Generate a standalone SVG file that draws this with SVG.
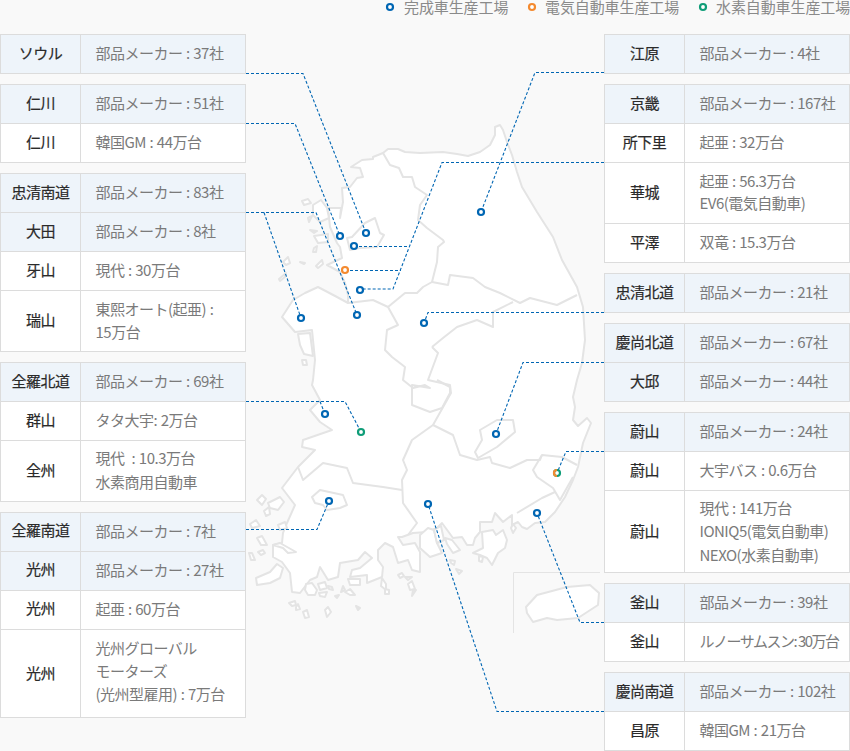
<svg xmlns="http://www.w3.org/2000/svg" width="850" height="751" viewBox="0 0 850 751">
<style>
text{font-family:"Noto Sans CJK JP","Noto Sans",sans-serif;font-size:15px}
.h{fill:#2a2a2a;stroke:#2a2a2a;stroke-width:.2;text-anchor:middle;letter-spacing:-.5px}
.d{fill:#7a7a7a;letter-spacing:-.5px;word-spacing:.7px}
.t{letter-spacing:-1.5px;word-spacing:0}
.l{fill:#8a8a8a;font-size:15px;letter-spacing:-.1px}
.a{fill:#eef4fa;stroke:#dcdcdc}
.w{fill:#fff;stroke:#dcdcdc}
.m{fill:#fff;stroke:#e4e4e4;stroke-width:2;stroke-linejoin:round}
.i{fill:none;stroke:#e4e4e4;stroke-width:2;stroke-linejoin:round}
.c{fill:none;stroke:#0066b3;stroke-width:1.1;stroke-dasharray:3 2}
.p{fill:#fff;stroke-width:2.2}
.bl{stroke:#0066b3}.or{stroke:#f48a2f}.gr{stroke:#0f9d78}
</style>
<rect width="850" height="751" fill="#f9f9f9"/>
<g id="map">
<path class="m" d="M351 167L362 160L373 159L373 157L383 153L388 149L398 149L405 152L420 153L443 152L457 154L468 156L480 152L490 145L495 135L495 127L500 125L503 130L507 142L512 155L517 172L522 187L537 212L553 237L562 260L577 287L583 307L585 340L582 363L577 380L573 397L575 407L573 420L578 426L587 418L591 423L583 443L578 467L573 480L565 497L555 512L545 522L535 523L527 529L522 527L518 522L512 525L512 515L503 522L495 513L492 522L480 522L480 532L475 538L473 545L467 545L462 537L453 538L442 523L437 528L427 532L413 533L402 537L398 537L403 545L415 543L420 552L420 572L412 570L408 560L398 563L393 547L385 543L378 550L378 560L383 567L382 577L367 583L367 575L350 577L352 570L360 568L372 558L365 552L358 560L340 563L338 577L328 580L320 567L317 577L310 580L300 593L292 592L290 573L282 562L273 557L273 545L282 543L283 533L287 523L295 505L282 488L298 467L315 450L302 447L303 440L332 430L320 422L310 410L320 400L312 385L313 380L315 360L312 330L295 332L282 317L293 300L305 293L318 287L337 297L348 303L348 295L345 283L340 272L327 265L342 258L340 247L337 243L330 227L328 208L341 208L340 218L343 202L342 188L350 187L357 178L363 177L360 168Z"/>
<g class="m">
<path d="M313 205L321 200L327 208L329 218L320 222L313 215Z"/>
<path d="M302 201L308 199L311 203L304 205Z"/>
<path d="M308 218L312 216L309 222Z"/>
<path d="M310 230L317 231L314 233Z"/>
<path d="M314 236L328 234L328 242L318 243Z"/>
<path d="M314 248L317 246L316 252L313 252Z"/>
<path d="M283 262L288 257L290 263L286 265Z"/>
<path d="M300 262L305 263L304 264Z"/>
<path d="M316 266L322 260L323 264L318 268Z"/>
<path d="M279 279L286 273L285 277L280 281Z"/>
<path d="M298 334L310 333L313 356L304 354L300 345Z"/>
<path d="M302 360L306 360L307 365L303 365Z"/>
<path d="M257 500L262 495L266 499L262 505Z"/>
<path d="M268 503L280 497L284 502L278 510L270 508Z"/>
<path d="M264 511L269 507L270 514L266 516Z"/>
<path d="M250 524L256 520L260 526L252 528Z"/>
<path d="M278 525L285 522L287 528L280 530Z"/>
<path d="M257 538L262 536L267 545L261 545Z"/>
<path d="M258 552L263 550L265 553L261 555Z"/>
<path d="M249 553L252 553L255 560L251 560Z"/>
<path d="M273 545L280 543L296 552L288 553L283 548Z"/>
<path d="M270 572L277 564L283 568L280 578L270 583L257 585L256 578Z"/>
<path d="M306 584L312 583L317 590L315 595L308 595L305 590Z"/>
<path d="M318 584L325 582L327 588L320 590Z"/>
<path d="M328 586L332 587L333 590L329 589Z"/>
<path d="M319 593L327 592L325 597L320 596Z"/>
<path d="M343 586L345 590L341 592Z"/>
<path d="M345 592L350 589L355 595L350 595Z"/>
<path d="M335 596L339 595L337 598Z"/>
<path d="M348 579L360 579L360 585L350 585Z"/>
<path d="M382 578L386 584L386 590L381 586Z"/>
<path d="M385 589L389 590L389 594L385 594Z"/>
<path d="M398 575L402 573L404 576L400 578Z"/>
<path d="M405 577L412 577L408 580Z"/>
<path d="M408 584L412 581L415 589L410 590Z"/>
<path d="M413 590L416 590L412 596Z"/>
<path d="M289 603L295 601L296 605L292 606Z"/>
<path d="M296 607L298 604L300 609L296 610Z"/>
<path d="M303 612L307 610L309 617L305 618Z"/>
<path d="M325 610L328 607L331 612L327 617Z"/>
<path d="M356 606L360 608L358 610Z"/>
<path d="M420 535L428 528L434 530L437 543L442 553L430 557L420 548Z"/>
<path d="M434 530L441 526L444 540L437 543Z"/>
<path d="M445 538L452 540L460 550L453 553L447 544Z"/>
<path d="M450 560L455 561L454 565L451 563Z"/>
<path d="M456 569L462 571L459 574Z"/>
<path d="M473 553L483 548L482 532L493 530L496 535L503 530L507 540L505 548L498 553L492 565L487 558L480 555Z"/>
<path d="M479 556L483 557L482 562L479 561Z"/>
<path d="M513 524L516 528L513 533L511 528Z"/>
</g>
<g class="i">
<path d="M383 153L390 165L399 168L403 177L412 177L415 187L427 195L420 205L418 220L427 228L443 240L444 242L438 247L437 262L432 282L448 285L450 275L473 278L485 287L500 293L520 303L530 298L557 305L577 295"/>
<path d="M432 282L423 287L417 293L405 293L388 307L398 325L387 330L385 350L392 357L405 367L403 380L413 388L425 385L430 388L412 385L412 405L430 412L442 408L450 393L450 387L437 380"/>
<path d="M432 347L443 338L457 327L477 320L493 327L493 312L513 302"/>
<path d="M432 347L438 353L428 380L450 385L451 393L433 425L453 435L460 455L477 460L490 457L492 463L510 468L527 460L540 460L542 455L562 457L577 465"/>
<path d="M433 425L412 440L403 460L407 470L402 480L403 503L417 523L408 535"/>
<path d="M298 467L303 480L323 463L347 468L353 483L383 487L402 490"/>
<path d="M348 303L373 300L388 307"/>
<path d="M497 420L513 420L515 432L497 447L478 458L475 452L482 440L480 430Z"/>
<path d="M542 455L533 470L537 477L553 488L560 500L573 477"/>
<path d="M555 492L542 498L517 513"/>
<path d="M352 237L365 223L375 218L380 233L384 235L377 247L360 248L350 250L347 238Z"/>
<path d="M312 497L320 490L343 495L347 505L340 508L327 510L323 505L315 503Z"/>
</g>
<path class="m" d="M526 607L537 595L567 587L590 585L599 593L598 605L578 618L557 620L547 618L533 622L527 613Z"/>
<path d="M513.500 633V572.500H600" fill="none" stroke="#e4e4e4"/>
</g>
<g id="connectors">
<path class="c" d="M246 73.500H303L366 233"/>
<path class="c" d="M246 123.500H295L340 236"/>
<path class="c" d="M246 212.500H316L357 315M264 212.500L301 318"/>
<path class="c" d="M246 401.500H345L361 432M320 401.500L325 414"/>
<path class="c" d="M246 529.500H317L329 501"/>
<path class="c" d="M604 72.500H535L481 212"/>
<path class="c" d="M604 162.500H442L393 289H360M345 270.500H401M354 246.500H409"/>
<path class="c" d="M604 312.500H428L424 323"/>
<path class="c" d="M604 362.500H523L496 434"/>
<path class="c" d="M604 451.500H566L557 473"/>
<path class="c" d="M604 622.500H580L537 513"/>
<path class="c" d="M604 711.500H497L428 504"/>
</g>
<g id="plants">
<circle class="p bl" cx="366" cy="233" r="3"/><circle class="p bl" cx="340" cy="236" r="3"/><circle class="p bl" cx="354" cy="246" r="3"/><circle class="p or" cx="345" cy="270" r="3"/><circle class="p bl" cx="360" cy="290" r="3"/><circle class="p bl" cx="301" cy="318" r="3"/><circle class="p bl" cx="357" cy="315" r="3"/><circle class="p bl" cx="481" cy="212" r="3"/><circle class="p bl" cx="424" cy="323" r="3"/><circle class="p bl" cx="325" cy="414" r="3"/><circle class="p gr" cx="361" cy="432" r="3"/><circle class="p bl" cx="496" cy="434" r="3"/><circle class="p bl" cx="329" cy="501" r="3"/><circle class="p bl" cx="428" cy="504" r="3"/><circle class="p bl" cx="537" cy="513" r="3"/>
<circle class="p gr" cx="557" cy="473" r="3"/><path d="M557 470a3 3 0 0 0 0 6" fill="none" stroke="#f48a2f" stroke-width="2.2"/>
</g>
<g id="legend">
<circle class="p bl" cx="390" cy="7" r="3"/><text class="l" x="404" y="13">完成車生産工場</text>
<circle class="p or" cx="532" cy="7" r="3"/><text class="l" x="545" y="13">電気自動車生産工場</text>
<circle class="p gr" cx="703" cy="7" r="3"/><text class="l" x="716" y="13">水素自動車生産工場</text>
</g>
<g id="seoul"><rect class="a" x=".5" y="34.500" width="245" height="39"/><path class="a" d="M80.500 34.500V73.500"/><text class="h" x="40.500" y="59">ソウル</text><text class="d" x="95.500" y="59">部品メーカー : 37社</text></g>
<g id="incheon"><rect class="a" x=".5" y="84.500" width="245" height="39"/><rect class="w" x=".5" y="123.500" width="245" height="39"/><path class="a" d="M80.500 84.500V162.500"/><text class="h" x="40.500" y="109">仁川</text><text class="d" x="95.500" y="109">部品メーカー : 51社</text><text class="h" x="40.500" y="148">仁川</text><text class="d" x="95.500" y="148">韓国GM : 44万台</text></g>
<g id="chungnam"><rect class="a" x=".5" y="173.500" width="245" height="78"/><path class="a" d="M.5 212.500H245.500"/><rect class="w" x=".5" y="251.500" width="245" height="100"/><path class="a" d="M.5 290.500H245.500M80.500 173.500V351.500"/><text class="h" x="40.500" y="198">忠清南道</text><text class="d" x="95.500" y="198">部品メーカー : 83社</text><text class="h" x="40.500" y="237">大田</text><text class="d" x="95.500" y="237">部品メーカー : 8社</text><text class="h" x="40.500" y="276">牙山</text><text class="d" x="95.500" y="276">現代 : 30万台</text><text class="h" x="40.500" y="326">瑞山</text><text class="d" x="95.500" y="315">東熙オート(起亜) :</text><text class="d" x="95.500" y="338">15万台</text></g>
<g id="jeonbuk"><rect class="a" x=".5" y="362.500" width="245" height="39"/><rect class="w" x=".5" y="401.500" width="245" height="100"/><path class="a" d="M.5 440.500H245.500M80.500 362.500V501.500"/><text class="h" x="40.500" y="387">全羅北道</text><text class="d" x="95.500" y="387">部品メーカー : 69社</text><text class="h" x="40.500" y="426">群山</text><text class="d" x="95.500" y="426">タタ大宇: 2万台</text><text class="h" x="40.500" y="476">全州</text><text class="d" x="95.500" y="464">現代&#160; : 10.3万台</text><text class="d" x="95.500" y="488">水素商用自動車</text></g>
<g id="jeonnam"><rect class="a" x=".5" y="512.500" width="245" height="78"/><path class="a" d="M.5 551.500H245.500"/><rect class="w" x=".5" y="590.500" width="245" height="127"/><path class="a" d="M.5 629.500H245.500M80.500 512.500V717.500"/><text class="h" x="40.500" y="536">全羅南道</text><text class="d" x="95.500" y="537">部品メーカー : 7社</text><text class="h" x="40.500" y="575">光州</text><text class="d" x="95.500" y="576">部品メーカー : 27社</text><text class="h" x="40.500" y="614">光州</text><text class="d" x="95.500" y="615">起亜 : 60万台</text><text class="h" x="40.500" y="679">光州</text><text class="d" x="95.500" y="654">光州グローバル</text><text class="d" x="95.500" y="677">モーターズ</text><text class="d" x="95.500" y="700">(光州型雇用) : 7万台</text></g>
<g id="gangwon"><rect class="a" x="604.500" y="34.500" width="245" height="39"/><path class="a" d="M684.500 34.500V73.500"/><text class="h" x="644.500" y="59">江原</text><text class="d" x="699.500" y="59">部品メーカー : 4社</text></g>
<g id="gyeonggi"><rect class="a" x="604.500" y="84.500" width="245" height="39"/><rect class="w" x="604.500" y="123.500" width="245" height="139"/><path class="a" d="M604.500 162.500H849.500M604.500 223.500H849.500M684.500 84.500V262.500"/><text class="h" x="644.500" y="109">京畿</text><text class="d" x="699.500" y="109">部品メーカー : 167社</text><text class="h" x="644.500" y="148">所下里</text><text class="d" x="699.500" y="148">起亜 : 32万台</text><text class="h" x="644.500" y="198">華城</text><text class="d" x="699.500" y="187">起亜 : 56.3万台</text><text class="d" x="699.500" y="209">EV6(電気自動車)</text><text class="h" x="644.500" y="248">平澤</text><text class="d" x="699.500" y="248">双竜 : 15.3万台</text></g>
<g id="chungbuk"><rect class="a" x="604.500" y="273.500" width="245" height="39"/><path class="a" d="M684.500 273.500V312.500"/><text class="h" x="644.500" y="298">忠清北道</text><text class="d" x="699.500" y="298">部品メーカー : 21社</text></g>
<g id="gyeongbuk"><rect class="a" x="604.500" y="323.500" width="245" height="78"/><path class="a" d="M604.500 362.500H849.500M684.500 323.500V401.500"/><text class="h" x="644.500" y="348">慶尚北道</text><text class="d" x="699.500" y="348">部品メーカー : 67社</text><text class="h" x="644.500" y="387">大邱</text><text class="d" x="699.500" y="387">部品メーカー : 44社</text></g>
<g id="ulsan"><rect class="a" x="604.500" y="412.500" width="245" height="39"/><rect class="w" x="604.500" y="451.500" width="245" height="121"/><path class="a" d="M604.500 490.500H849.500M684.500 412.500V572.500"/><text class="h" x="644.500" y="437">蔚山</text><text class="d" x="699.500" y="437">部品メーカー : 24社</text><text class="h" x="644.500" y="476">蔚山</text><text class="d" x="699.500" y="476">大宇バス : 0.6万台</text><text class="h" x="644.500" y="537">蔚山</text><text class="d" x="699.500" y="514">現代 : 141万台</text><text class="d" x="699.500" y="537">IONIQ5(電気自動車)</text><text class="d" x="699.500" y="561">NEXO(水素自動車)</text></g>
<g id="busan"><rect class="a" x="604.500" y="583.500" width="245" height="39"/><rect class="w" x="604.500" y="622.500" width="245" height="39"/><path class="a" d="M684.500 583.500V661.500"/><text class="h" x="644.500" y="608">釜山</text><text class="d" x="699.500" y="608">部品メーカー : 39社</text><text class="h" x="644.500" y="647">釜山</text><text class="d t" x="699.500" y="647">ルノーサムスン: 30万台</text></g>
<g id="gyeongnam"><rect class="a" x="604.500" y="672.500" width="245" height="39"/><rect class="w" x="604.500" y="711.500" width="245" height="39"/><path class="a" d="M684.500 672.500V750.500"/><text class="h" x="644.500" y="697">慶尚南道</text><text class="d" x="699.500" y="697">部品メーカー : 102社</text><text class="h" x="644.500" y="736">昌原</text><text class="d" x="699.500" y="736">韓国GM : 21万台</text></g>
</svg>
